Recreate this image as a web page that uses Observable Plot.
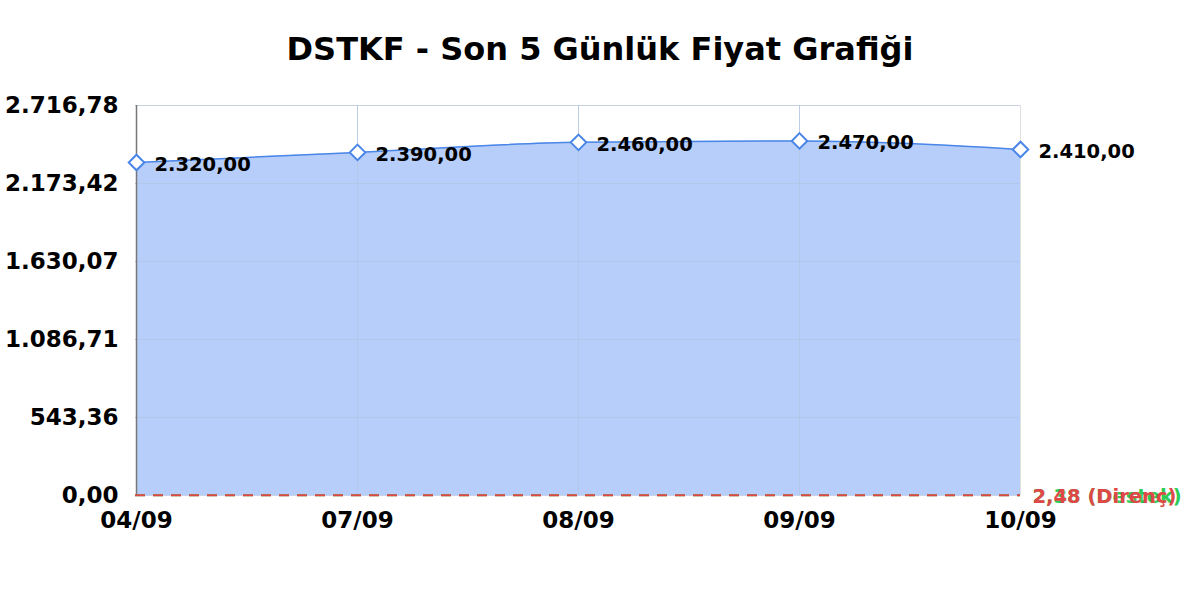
<!DOCTYPE html>
<html>
<head>
<meta charset="utf-8">
<script src="https://cdn.jsdelivr.net/npm/d3@7"></script>
<script src="https://cdn.jsdelivr.net/npm/@observablehq/plot@0.6"></script>
<style>
  body { margin: 0; background: #fff; font-family: "DejaVu Sans", sans-serif; }
  #title { height: 98px; line-height: 98px; text-align: center; font-weight: bold; font-size: 32px; color: #000; }
  svg { overflow: visible; }
</style>
</head>
<body>
<div id="title">DSTKF - Son 5 Günlük Fiyat Grafiği</div>
<div id="chart"></div>
<script>
const dates = ["04/09", "07/09", "08/09", "09/09", "10/09"];
const prices = [2320, 2390, 2460, 2470, 2410];
const yTicks = [0, 543.36, 1086.71, 1630.07, 2173.42, 2716.78];
const yMax = 2716.78;
const resistance = 2.48;
const support = 2.38;
const resistanceLabel = "2,48 (Direnç)";
const supportLabel = "2,38 (Destek)";

const tr = d3.formatLocale({decimal: ",", thousands: ".", grouping: [3], currency: ["", ""]});
const fmt = tr.format(",.2f");

const data = dates.map((d, i) => ({date: d, price: prices[i]}));
const lines = [
  {y: support, label: supportLabel, color: "#2ecc55"},
  {y: resistance, label: resistanceLabel, color: "#e04848"}
];

const chart = Plot.plot({
  width: 1200,
  height: 459,
  marginTop: 7,
  marginLeft: 135,
  marginRight: 180,
  marginBottom: 62,
  style: {fontFamily: "DejaVu Sans, sans-serif", background: "#fff", overflow: "visible"},
  x: {type: "point", domain: dates, padding: 0, label: null},
  y: {domain: [0, yMax], label: null},
  marks: [
    Plot.gridY(yTicks, {stroke: "#c8d4e8", strokeOpacity: 1}),
    Plot.gridX(dates, {stroke: "#c8d4e8", strokeOpacity: 1}),
    Plot.ruleY([yMax], {stroke: "#e0e0e0"}),
    Plot.ruleX([dates[dates.length - 1]], {stroke: "#e0e0e0"}),
    Plot.areaY(data, {x: "date", y: "price", fill: "#a9c6f8", fillOpacity: 0.85, curve: "monotone-x"}),
    Plot.gridY(yTicks.slice(1), {stroke: "#b5c6e3", strokeOpacity: 0.6}),
    Plot.gridX(dates.slice(1, -1), {stroke: "#b5c6e3", strokeOpacity: 0.6}),
    Plot.lineY(data, {x: "date", y: "price", stroke: "#4a86e8", strokeWidth: 1.5, curve: "monotone-x"}),
    Plot.ruleX([dates[0]], {stroke: "#777", strokeWidth: 1.5}),
    Plot.ruleY(lines, {y: "y", stroke: "color", strokeWidth: 2, strokeDasharray: "10,8"}),
    Plot.dot(data, {x: "date", y: "price", symbol: "diamond2", r: 7, stroke: "#4a86e8", strokeWidth: 2, fill: "#fff"}),
    Plot.text(data, {x: "date", y: "price", text: d => fmt(d.price), dx: 18, dy: 2, textAnchor: "start", fontSize: 19.5, fontWeight: "bold", fill: "#000"}),
    Plot.text(lines, {x: () => dates[dates.length - 1], y: "y", text: "label", fill: "color", dx: 12, dy: 2, textAnchor: "start", fontSize: 19.5, fontWeight: "bold"}),
    Plot.axisY(yTicks, {tickFormat: fmt, tickSize: 0, tickPadding: 17, fontSize: 23, fontWeight: "bold", fill: "#000"}),
    Plot.axisX(dates, {tickSize: 0, tickPadding: 16, fontSize: 23, fontWeight: "bold", fill: "#000"})
  ]
});
document.getElementById("chart").appendChild(chart);
</script>
</body>
</html>
